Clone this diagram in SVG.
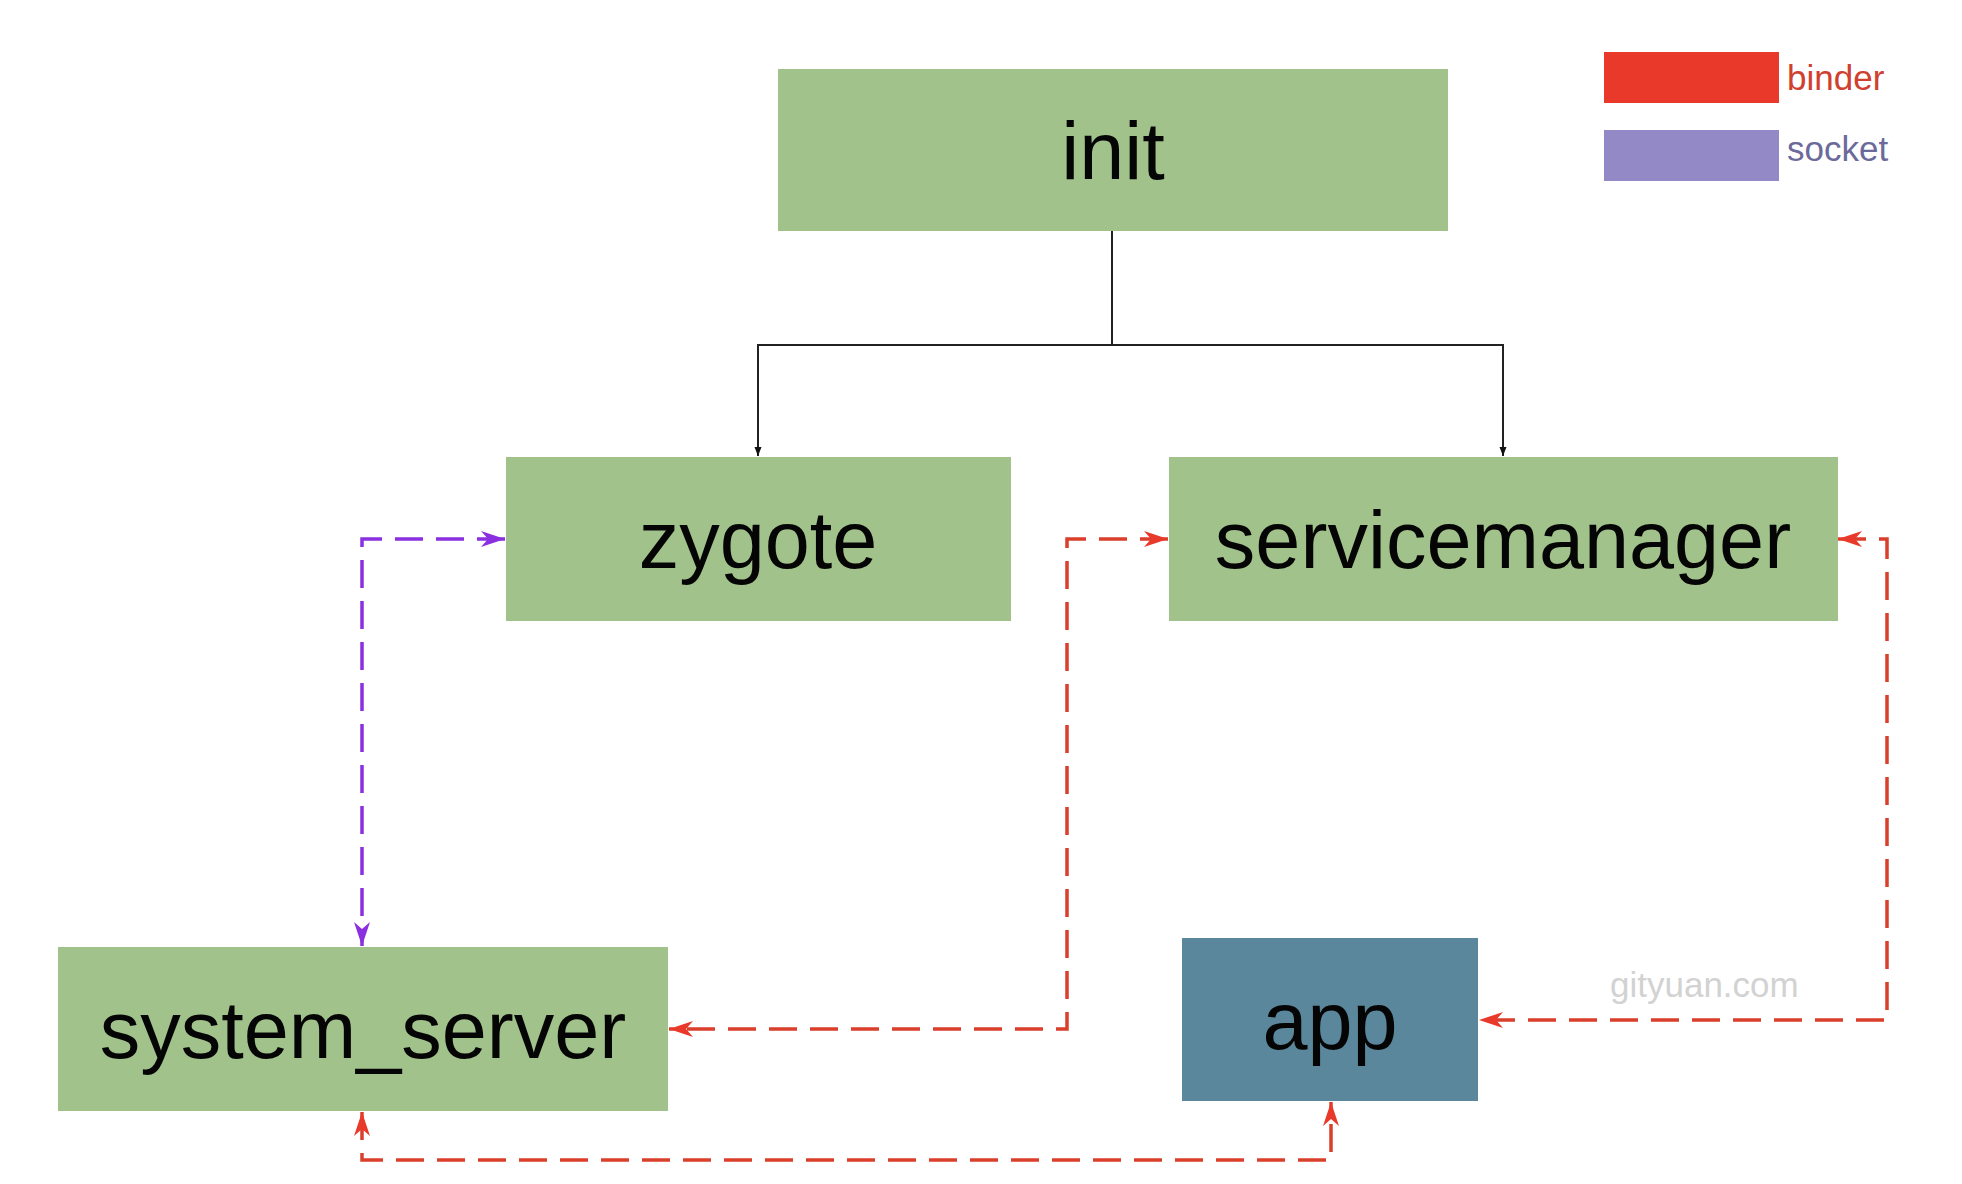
<svg xmlns="http://www.w3.org/2000/svg" width="1962" height="1184" viewBox="0 0 1962 1184">
  <style>
    .box { fill: #A2C28B; }
    .app { fill: #5A879B; }
    .lbl { font-family: "Liberation Sans", Arial, sans-serif; font-size: 81px; fill: #050505; text-anchor: middle; }
    .leg { font-family: "Liberation Sans", Arial, sans-serif; font-size: 35px; }
    .tree { fill: none; stroke: #222; stroke-width: 2; }
    .binder { fill: none; stroke: #DA3F2C; stroke-width: 3.5; stroke-dasharray: 28 13; }
    .socket { fill: none; stroke: #8A30E0; stroke-width: 3.5; stroke-dasharray: 28 13; }
  </style>
  <defs>
    <marker id="ablack" markerUnits="userSpaceOnUse" markerWidth="10" markerHeight="8" refX="9" refY="3.5" orient="auto">
      <path d="M0,0 L9,3.5 L0,7 Z" fill="#111"/>
    </marker>
    <marker id="ared" markerUnits="userSpaceOnUse" markerWidth="26" markerHeight="18" refX="24" refY="8" orient="auto-start-reverse">
      <path d="M0,0 L24,8 L0,16 L7,8 Z" fill="#E8392A"/>
    </marker>
    <marker id="apurple" markerUnits="userSpaceOnUse" markerWidth="26" markerHeight="18" refX="24" refY="8" orient="auto-start-reverse">
      <path d="M0,0 L24,8 L0,16 L7,8 Z" fill="#8A30E0"/>
    </marker>
  </defs>
  <rect width="1962" height="1184" fill="#FFFFFF"/>

  <g id="connectors">
    <path class="tree" d="M1112,231 V345 H758 V456" marker-end="url(#ablack)"/>
    <path class="tree" d="M1112,345 H1503 V456" marker-end="url(#ablack)"/>
    <path class="socket" d="M505,539 H362 V946" marker-start="url(#apurple)" marker-end="url(#apurple)"/>
    <path class="binder" d="M1168,539 H1067 V1029 H669" marker-start="url(#ared)" marker-end="url(#ared)"/>
    <path class="binder" d="M1838,539 H1887 V1020 H1479" marker-start="url(#ared)" marker-end="url(#ared)"/>
    <path class="binder" d="M362,1112 V1160 H1331 V1102" marker-start="url(#ared)" marker-end="url(#ared)"/>
  </g>

  <g id="legend">
    <rect x="1604" y="52" width="175" height="51" fill="#E8392A"/>
    <text class="leg" x="1787" y="90" fill="#D0402F">binder</text>
    <rect x="1604" y="130" width="175" height="51" fill="#9389C6"/>
    <text class="leg" x="1787" y="161" fill="#6B6A9A">socket</text>
  </g>

  <g id="init">
    <rect class="box" x="778" y="69" width="670" height="162"/>
    <text class="lbl" x="1113" y="179">init</text>
  </g>
  <g id="zygote">
    <rect class="box" x="506" y="457" width="505" height="164"/>
    <text class="lbl" x="758" y="568">zygote</text>
  </g>
  <g id="servicemanager">
    <rect class="box" x="1169" y="457" width="669" height="164"/>
    <text class="lbl" x="1503" y="568">servicemanager</text>
  </g>
  <g id="system_server">
    <rect class="box" x="58" y="947" width="610" height="164"/>
    <text class="lbl" x="363" y="1058">system_server</text>
  </g>
  <g id="app">
    <rect class="app" x="1182" y="938" width="296" height="163"/>
    <text class="lbl" x="1330" y="1049">app</text>
  </g>

  <text x="1610" y="997" font-family="Liberation Sans, Arial, sans-serif" font-size="35" fill="#D2D2D2">gityuan.com</text>
</svg>
